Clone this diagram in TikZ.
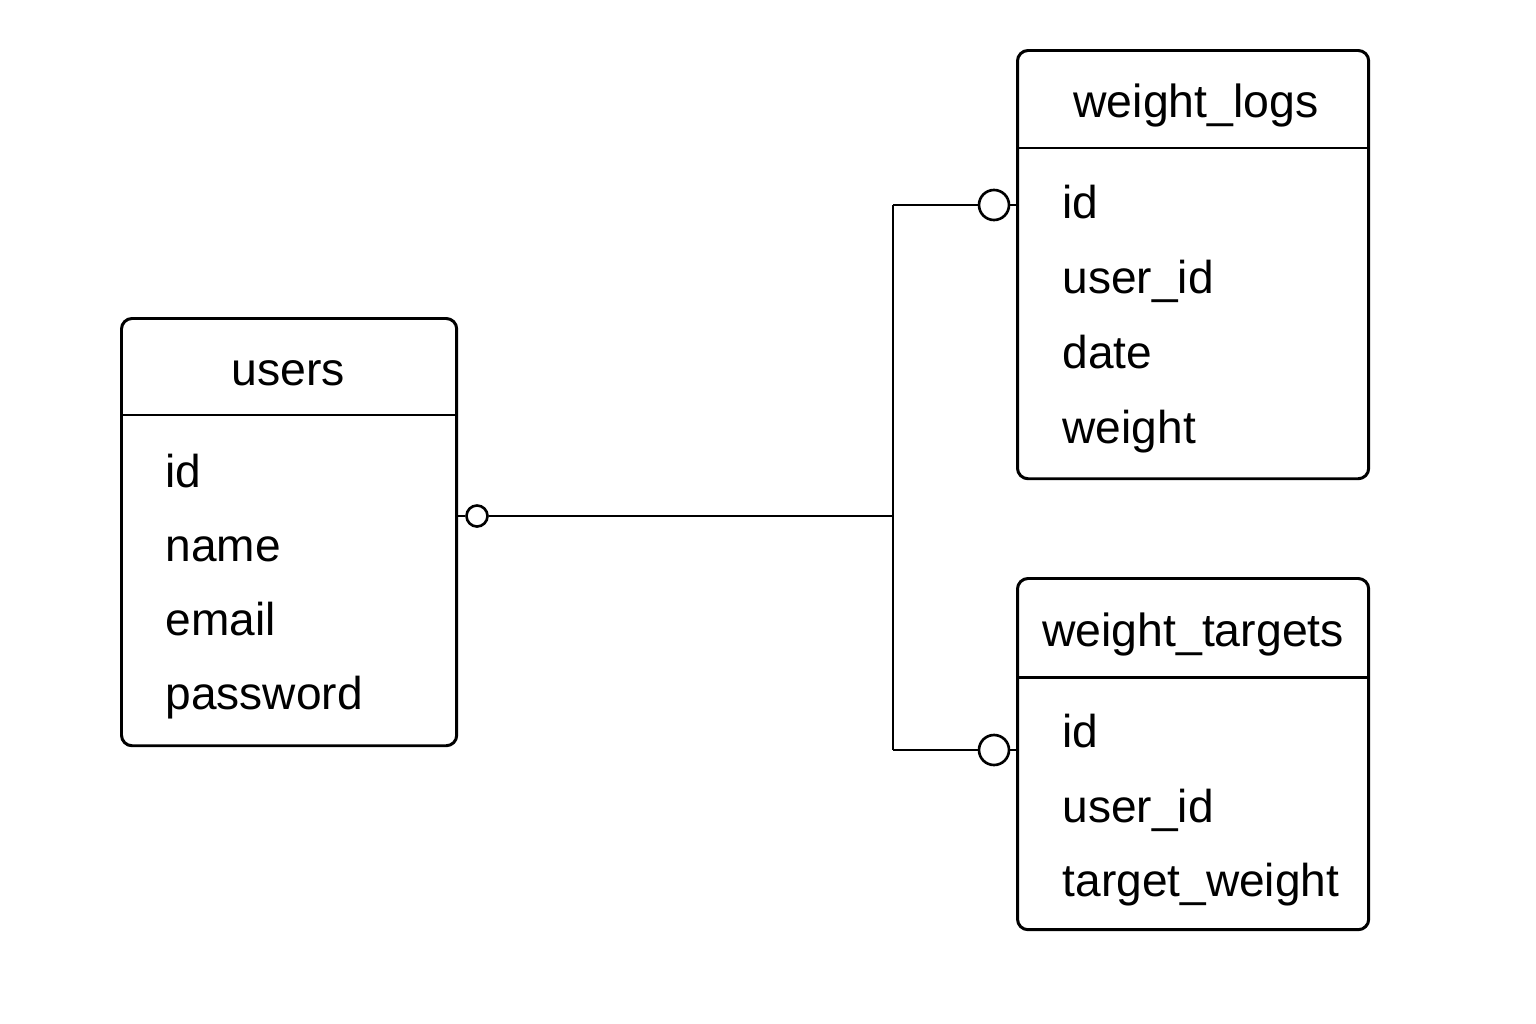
\documentclass[tikz,border=0pt]{standalone}
\usepackage{fontspec}
\setmainfont{Liberation Sans}
\begin{document}
\begin{tikzpicture}[x=0.01cm,y=-0.01cm,
  tbl/.style={draw, line width=0.85pt, rounded corners=3pt, inner sep=0pt, anchor=north west, fill=white},
  hdr/.style={anchor=base, font=\fontsize{13.2}{15}\selectfont, inner sep=0pt},
  fld/.style={anchor=base west, font=\fontsize{13.1}{15}\selectfont, inner sep=0pt},
  conn/.style={line width=0.75pt},
  zsmall/.style={draw, circle, line width=0.75pt, inner sep=0pt, minimum size=0.21cm, fill=white},
  zbig/.style={draw, circle, line width=0.75pt, inner sep=0pt, minimum size=0.30cm, fill=white}]
\fill[white] (0,0) rectangle (1536,1024);
\useasboundingbox (0,0) rectangle (1536,1024);

% users
\node[tbl, minimum width=3.35cm, minimum height=4.27cm] (users) at (120,317) {};
\draw[line width=0.85pt] (users.west |- 0,415) -- (users.east |- 0,415);
\node[hdr] (usersh) at (288,385) {users};
\node[fld] (u1) at (165,487) {id};
\node[fld] (u2) at (165,561) {name};
\node[fld] (u3) at (165,635) {email};
\node[fld] (u4) at (165,709) {password};

% weight_logs
\node[tbl, minimum width=3.51cm, minimum height=4.28cm] (logs) at (1016,49) {};
\draw[line width=0.85pt] (logs.west |- 0,148) -- (logs.east |- 0,148);
\node[hdr] (logsh) at (1196,117) {weight\_logs};
\node[fld] (l1) at (1062,218) {id};
\node[fld] (l2) at (1062,293) {user\_id};
\node[fld] (l3) at (1062,368) {date};
\node[fld] (l4) at (1062,443) {weight};

% weight_targets
\node[tbl, minimum width=3.51cm, minimum height=3.51cm] (targets) at (1016,577) {};
\draw[line width=0.85pt] (targets.west |- 0,677) -- (targets.east |- 0,677);
\node[hdr] (targetsh) at (1193,646) {weight\_targets};
\node[fld] (t1) at (1062,747) {id};
\node[fld] (t2) at (1062,822) {user\_id};
\node[fld] (t3) at (1062,896) {target\_weight};

% connectors
\node[zsmall] (uc) at (477,516) {};
\node[zbig] (lc) at (994,205) {};
\node[zbig] (tc) at (994,750) {};
\coordinate (jmid) at (893,516);
\coordinate (jtop) at (893,205);
\coordinate (jbot) at (893,750);
\draw[conn] (users.east |- uc) -- (uc.west);
\draw[conn] (uc.east) -- (jmid);
\draw[conn] (jtop) -- (jbot);
\draw[conn] (jtop) -- (lc.west);
\draw[conn] (lc.east) -- (logs.west |- lc);
\draw[conn] (jbot) -- (tc.west);
\draw[conn] (tc.east) -- (targets.west |- tc);
\end{tikzpicture}
\end{document}
